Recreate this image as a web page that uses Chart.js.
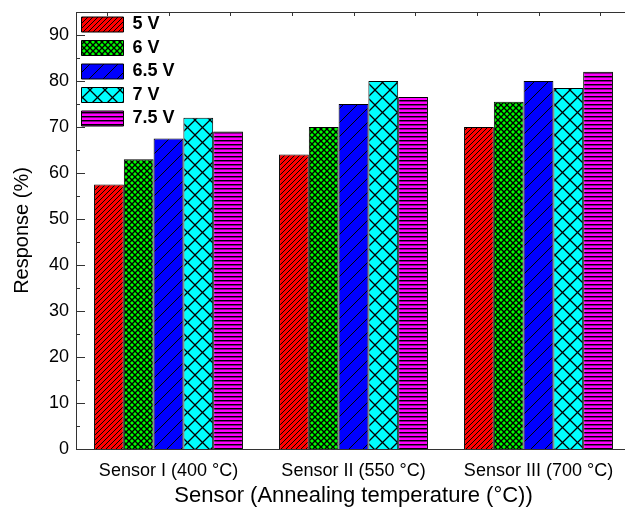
<!DOCTYPE html>
<html>
<head>
<meta charset="utf-8">
<script src="https://cdn.jsdelivr.net/npm/chart.js@4.4.1/dist/chart.umd.min.js"></script>
<style>
	body { margin: 0; overflow: hidden; background: #fff; }
	#wrap { width: 640px; height: 511px; }
</style>
</head>
<body>
<div id="wrap"><canvas id="chart" width="640" height="511"></canvas></div>
<script>
const sensors = ['Sensor I (400 °C)', 'Sensor II (550 °C)', 'Sensor III (700 °C)'];
const voltages = ['5 V', '6 V', '6.5 V', '7 V', '7.5 V'];
const resp5 = [57.5, 64, 70];
const resp6 = [63, 70, 75.5];
const resp65 = [67.5, 75, 80];
const resp7 = [72, 80, 78.5];
const resp75 = [69, 76.5, 82];
const yTicks = [0, 10, 20, 30, 40, 50, 60, 70, 80, 90];

// pattern tiles for the hatched bars
function makePattern(fill, size, draw) {
	const c = document.createElement('canvas');
	c.width = size;
	c.height = size;
	const g = c.getContext('2d');
	g.fillStyle = fill;
	g.fillRect(0, 0, size, size);
	g.strokeStyle = '#000';
	g.fillStyle = '#000';
	draw(g, size);
	return g.createPattern(c, 'repeat');
}

function slash(g, s) {
	g.beginPath();
	g.moveTo(-1, s + 1); g.lineTo(s + 1, -1);
	g.moveTo(-1, 1); g.lineTo(1, -1);
	g.moveTo(s - 1, s + 1); g.lineTo(s + 1, s - 1);
	g.stroke();
}
function backslash(g, s) {
	g.beginPath();
	g.moveTo(-1, -1); g.lineTo(s + 1, s + 1);
	g.moveTo(s - 1, -1); g.lineTo(s + 1, 1);
	g.moveTo(-1, s - 1); g.lineTo(1, s + 1);
	g.stroke();
}

const redFill = makePattern('#ff0000', 5, (g, s) => { g.lineWidth = 1; slash(g, s); });
const greenFill = makePattern('#00ff00', 6, (g, s) => { g.lineWidth = 1.4; slash(g, s); backslash(g, s); });
const blueFill = makePattern('#0000ff', 14, (g, s) => { g.lineWidth = 1; slash(g, s); });
const cyanFill = makePattern('#00ffff', 15, (g, s) => { g.lineWidth = 1.3; slash(g, s); backslash(g, s); });
const magentaFill = makePattern('#ff00ff', 4, (g, s) => {
	g.fillRect(0, 0, s, 1);
	g.fillStyle = 'rgba(0,0,0,0.45)';
	g.fillRect(0, 1, s, 1);
});

const fills = [redFill, greenFill, blueFill, cyanFill, magentaFill];
const series = [resp5, resp6, resp65, resp7, resp75];

const axisColor = '#333';

const frameAndTicks = {
	id: 'frameAndTicks',
	afterLayout(chart) {
		// a vertical legend in the chart area gets top = 0, so put it back under the frame
		const lg = chart.legend;
		const h = lg.height;
		lg.top = chart.chartArea.top - 2;
		lg.bottom = lg.top + h;
	},
	afterDraw(chart) {
		const {ctx, chartArea: {left, top, right}} = chart;
		const y = chart.scales.y;
		const x = chart.scales.x;
		ctx.save();
		ctx.strokeStyle = axisColor;
		ctx.lineWidth = 1;
		ctx.beginPath();
		// top frame line
		ctx.moveTo(left, Math.round(top) + 0.5);
		ctx.lineTo(chart.width, Math.round(top) + 0.5);
		// inward y ticks, major every 10, minor every 5
		for (let v = 5; v <= 90; v += 5) {
			const py = Math.round(y.getPixelForValue(v)) + 0.5;
			const len = v % 10 === 0 ? 9 : 4;
			ctx.moveTo(left, py);
			ctx.lineTo(left + len, py);
		}
		// small ticks under the top frame
		const step = (x.getPixelForValue(1) - x.getPixelForValue(0)) / 3;
		for (let i = -1; i <= 7; i++) {
			const px = Math.round(x.getPixelForValue(0) + i * step) + 0.5;
			if (px > left && px < right) {
				ctx.moveTo(px, top);
				ctx.lineTo(px, top + 4);
			}
		}
		ctx.stroke();
		ctx.restore();
	}
};

const datasets = voltages.map((v, i) => ({
	label: v,
	data: series[i],
	backgroundColor: fills[i],
	borderColor: '#000',
	borderWidth: 1,
	barPercentage: 1.0,
	categoryPercentage: 0.805,
}));

new Chart(document.getElementById('chart'), {
	type: 'bar',
	data: {
		labels: sensors,
		datasets: datasets,
	},
	options: {
		responsive: false,
		animation: false,
		layout: {
			padding: { top: 12, right: 9, left: 0, bottom: 0 }
		},
		scales: {
			x: {
				grid: { display: false, drawTicks: false },
				border: { display: true, color: axisColor, width: 1 },
				ticks: {
					color: '#000',
					padding: 11,
					font: { family: "'Liberation Sans', Arial, sans-serif", size: 18 },
				},
				title: {
					display: true,
					text: 'Sensor (Annealing temperature (°C))',
					color: '#000',
					padding: { top: 0, bottom: 2 },
					font: { family: "'Liberation Sans', Arial, sans-serif", size: 22 },
				},
				afterFit(scale) { scale.height = 62; },
			},
			y: {
				min: 0,
				max: 95,
				grid: { display: false, drawTicks: false },
				border: { display: true, color: axisColor, width: 1 },
				ticks: {
					stepSize: 10,
					color: '#000',
					padding: 7,
					font: { family: "'Liberation Sans', Arial, sans-serif", size: 18 },
				},
				afterBuildTicks(scale) {
					scale.ticks = yTicks.map(v => ({ value: v }));
				},
				title: {
					display: true,
					text: 'Response (%)',
					color: '#000',
					padding: { top: 10, bottom: 0 },
					font: { family: "'Liberation Sans', Arial, sans-serif", size: 20 },
				},
				afterFit(scale) {
					scale.width = 76;
					// top label is 90, not the 95 edge, so no extra room is needed
					scale.paddingTop = 0;
					scale.paddingBottom = 0;
				},
			},
		},
		plugins: {
			legend: {
				position: 'chartArea',
				align: 'start',
				labels: {
					boxWidth: 42,
					boxHeight: 15,
					padding: 5.5,
					color: '#000',
					font: { family: "'Liberation Sans', Arial, sans-serif", size: 18, weight: 'bold' },
				},
			},
			tooltip: { enabled: false },
		},
	},
	plugins: [frameAndTicks],
});
</script>
</body>
</html>
